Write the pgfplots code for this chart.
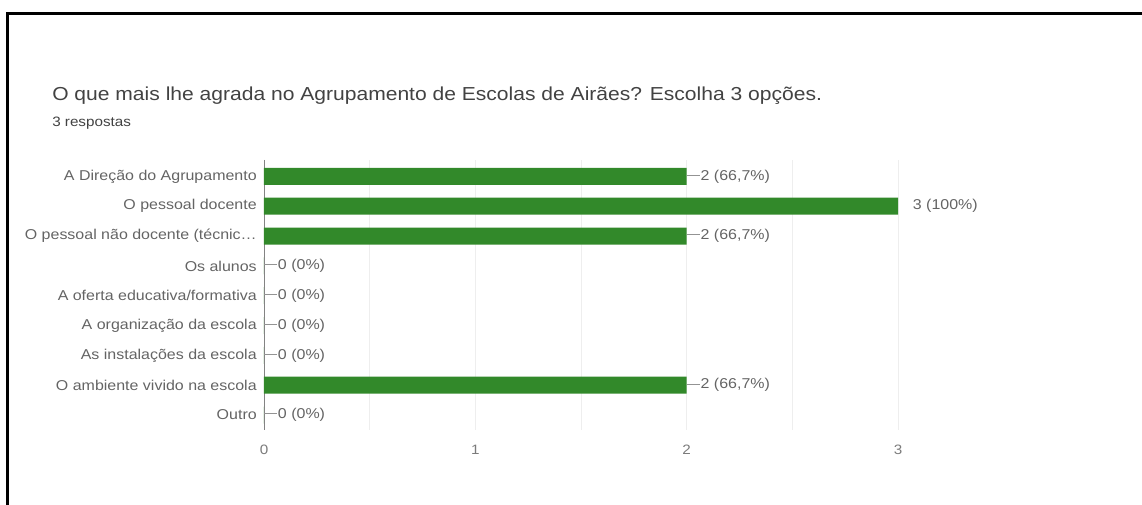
\documentclass[border=0pt]{standalone}
\usepackage{pgfplots}
\pgfplotsset{compat=1.18}
\usepackage{fontspec}
\setmainfont{Liberation Sans}[FakeStretch=1.12]
\definecolor{bargreen}{RGB}{50,137,42}
\definecolor{txt}{RGB}{66,66,66}
\definecolor{lbl}{RGB}{100,100,100}
\definecolor{gridc}{RGB}{238,238,238}
\newcommand\ldr{\textcolor{lbl!70}{\rule[0.33em]{9.5pt}{0.5pt}}\hspace{0.8pt}}

\begin{document}
\begin{tikzpicture}[x=0.75pt,y=0.75pt]
\path[use as bounding box] (0,0) rectangle (1142,505);
\draw[line width=2.25pt] (7,0) -- (7,491) -- (1142,491);
\node[anchor=base west, inner sep=0, text=txt, font=\fontsize{14.1}{16}\selectfont]
  at (52,404.3) {O que mais lhe agrada no Agrupamento de Escolas de Airães? Escolha 3 opções.};
\node[anchor=base west, inner sep=0, text=txt, font=\fontsize{10.2}{12}\selectfont]
  at (52,378.3) {3 respostas};

\begin{axis}[
    at={(198pt,56.25pt)}, anchor=south west,
    scale only axis, width=475.5pt, height=202.5pt,
    xbar, bar width=12.75pt,
    xmin=0, xmax=3, ymin=-0.55, ymax=8.5,
    y dir=reverse,
    xtick={0,1,2,3}, minor x tick num=1,
    ytick={0,...,8},
    yticklabels={A Direção do Agrupamento, O pessoal docente, O pessoal não docente (técnic…, Os alunos, A oferta educativa/formativa, A organização da escola, As instalações da escola, O ambiente vivido na escola, Outro},
    xmajorgrids, xminorgrids,
    major grid style={gridc}, minor grid style={gridc},
    axis y line*=left, axis x line*=bottom,
    x axis line style={draw=none},
    y axis line style={draw=lbl!80, line width=0.6pt},
    tick style={draw=none},
    /pgf/number format/assume math mode=true,
    yticklabel style={font=\fontsize{10.7}{12}\selectfont, text=lbl, inner sep=1pt},
    xticklabel style={font=\fontsize{10.2}{12}\selectfont, text=lbl!85, yshift=-8pt},
    point meta=explicit symbolic,
    nodes near coords={\pgfplotspointmeta},
    every node near coord/.append style={anchor=west, inner sep=0pt, text=lbl, font=\fontsize{10.7}{12}\selectfont},
  ]
  \addplot[fill=bargreen, draw=none] coordinates {
    (2,0) [\ldr 2 (66,7\%)]
    (3,1) [\hspace{11pt}3 (100\%)]
    (2,2) [\ldr 2 (66,7\%)]
    (0,3) [\ldr 0 (0\%)]
    (0,4) [\ldr 0 (0\%)]
    (0,5) [\ldr 0 (0\%)]
    (0,6) [\ldr 0 (0\%)]
    (2,7) [\ldr 2 (66,7\%)]
    (0,8) [\ldr 0 (0\%)]
  };
\end{axis}
\end{tikzpicture}
\end{document}
